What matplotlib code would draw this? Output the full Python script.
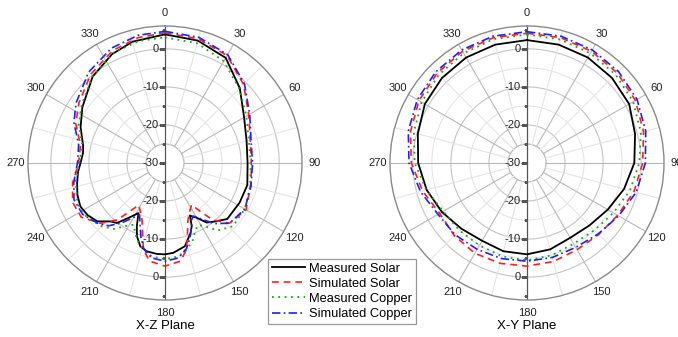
import numpy as np
import matplotlib
matplotlib.use("Agg")
import matplotlib.pyplot as plt
from matplotlib.markers import TICKLEFT

plt.rcParams['font.family'] = ['Liberation Sans', 'DejaVu Sans']

# ---- X-Z plane data (angle in degrees, gain in dB) ----
xz_meas_solar_ang = [0, 15, 30, 45, 60, 75, 90, 105, 118, 132, 140, 145, 150, 154.7, 157, 160,
                     166.6, 174.7, 180, 185, 191.7, 196.6, 201, 204, 207.9, 213.6, 218.7, 223,
                     229.3, 236, 242.8, 250, 257, 264, 270, 277, 282, 293, 304, 320, 334, 345]
xz_meas_solar = [3.8, 3.3, 1.9, -2.2, -6.0, -7.8, -8.3, -7.6, -7.8, -8.0, -9.9, -10.9, -13.4, -14.7,
                 -12.0, -10.4, -7.5, -6.3, -6.0, -6.0, -6.3, -7.2, -9.4, -11.8, -15.1, -12.7, -9.8,
                 -9.0, -6.5, -5.5, -5.0, -5.5, -6.3, -7.0, -7.8, -8.3, -8.0, -5.9, -3.8, -0.4, 1.8, 3.0]

xz_sim_solar_ang = [0, 15, 30, 45, 60, 75, 90, 103, 120, 133, 140, 144, 147.5, 152, 158, 163, 166,
                    171, 180, 189, 194, 197, 202, 208, 212, 216, 220, 227, 237, 247, 258, 270, 282,
                    294, 305, 320, 335, 348]
xz_sim_solar = [4.2, 3.8, 2.6, -0.8, -4.6, -6.8, -7.3, -6.8, -5.4, -6.8, -10.5, -14.3, -17.0, -16.0,
                -13.9, -9.9, -6.6, -3.9, -2.9, -3.9, -6.6, -9.9, -13.9, -16.0, -17.0, -14.3, -10.5,
                -6.8, -3.8, -3.6, -5.2, -7.3, -7.3, -4.3, -2.4, 0.4, 2.6, 3.7]

xz_meas_copper_ang = [0, 15, 30, 45, 60, 75, 90, 105, 120, 133, 142, 148, 152, 156, 160, 166, 172,
                      180, 188, 194, 200, 204, 207, 212, 218, 225, 235, 245, 258, 270, 282, 294,
                      305, 320, 335, 348]
xz_meas_copper = [3.0, 2.6, 0.9, -2.4, -5.3, -7.2, -7.5, -6.8, -5.8, -5.6, -7.5, -10.5, -11.5, -10.5,
                  -8.5, -6.5, -5.2, -4.7, -5.2, -6.5, -8.5, -10.5, -11.8, -10.5, -8.0, -6.5, -5.0,
                  -4.6, -6.0, -7.5, -7.8, -5.2, -3.3, -0.3, 2.0, 2.8]

xz_sim_copper_ang = [0, 15, 30, 45, 60, 75, 90, 105, 120, 133, 141, 147, 152, 155, 158, 162, 166,
                     172, 180, 188, 194, 198, 202, 206, 210, 216, 222, 228, 238, 248, 258, 270, 282,
                     294, 304, 320, 335, 348]
xz_sim_copper = [4.6, 4.2, 2.9, -0.5, -4.3, -6.6, -7.0, -6.6, -5.8, -6.8, -9.5, -12.5, -14.2, -13.5,
                 -11.5, -9.0, -6.8, -4.8, -4.2, -4.8, -6.8, -9.5, -12.5, -14.8, -13.5, -10.5, -7.8,
                 -6.3, -4.5, -4.2, -5.5, -7.0, -6.8, -3.8, -1.8, 1.2, 3.3, 4.3]

# ---- X-Y plane data ----
xy_ang = [0, 15, 30, 45, 60, 75, 90, 105, 120, 135, 150, 165, 180, 195, 210, 225, 240, 255, 270,
          285, 300, 315, 330, 345]
xy_meas_solar = [2.3, 2.2, 2.0, 1.6, 1.0, -0.6, -1.8, -3.6, -5.5, -6.8, -7.3, -6.5, -6.0, -6.0,
                 -6.4, -5.6, -4.2, -2.7, -1.4, -0.3, 1.0, 1.6, 2.0, 2.2]
xy_sim_solar = [4.1, 4.1, 3.9, 3.5, 2.9, 1.7, 0.4, -0.9, -2.5, -3.4, -3.7, -3.2, -2.9, -2.7, -2.6,
                -3.0, -3.5, -1.6, 0.4, 1.7, 2.8, 3.4, 3.9, 4.1]
xy_meas_copper = [3.8, 3.6, 3.3, 2.9, 2.2, 1.0, -0.5, -2.0, -3.8, -5.0, -5.5, -4.9, -4.4, -4.6,
                  -5.0, -4.9, -4.6, -2.6, -0.5, 0.8, 2.0, 2.8, 3.3, 3.7]
xy_sim_copper = [4.5, 4.5, 4.3, 4.0, 3.4, 2.3, 1.1, -0.3, -2.2, -3.6, -4.4, -4.3, -4.2, -4.0,
                 -3.8, -3.3, -3.0, -1.0, 1.0, 2.3, 3.3, 3.9, 4.3, 4.5]

series_labels = ["Measured Solar", "Simulated Solar", "Measured Copper", "Simulated Copper"]
plane_titles = ["X-Z Plane", "X-Y Plane"]

R_MIN, R_MAX = -30, 6

styles = [
    dict(color="black", lw=1.3, ls="-"),
    dict(color="#ff2020", lw=1.2, ls=(0, (4, 3))),
    dict(color="#20a020", lw=1.3, ls=(0, (1, 2.5))),
    dict(color="#2020ff", lw=1.2, ls=(0, (5, 2, 1, 2))),
]


def closed(ang, val):
    a = np.deg2rad(list(ang) + [ang[0] + 360])
    v = list(val) + [val[0]]
    return a, v


def setup_polar(ax):
    ax.set_theta_zero_location("N")
    ax.set_theta_direction(-1)
    ax.set_rlim(R_MIN, R_MAX)
    ax.grid(False)
    ax.set_yticklabels([])
    ax.set_yticks([])
    ax.set_thetagrids(range(0, 360, 30), [str(a) for a in range(0, 360, 30)], fontsize=8)
    ax.tick_params(axis="x", pad=-1.5, colors="#222222")
    ax.spines["polar"].set_color("#8a8a8a")
    ax.spines["polar"].set_linewidth(1.0)

    full = np.linspace(0, 2 * np.pi, 361)
    # circular grid
    for v in [-20, -10, 0]:
        ax.plot(full, [v] * len(full), color="#c4c4c4", lw=0.8, zorder=1)
    for v in [-25]:
        ax.plot(full, [v] * len(full), color="#b0b0b0", lw=0.8, zorder=1)
    for v in [-15, -5]:
        ax.plot(full, [v] * len(full), color="#e2e2e2", lw=0.7, zorder=1)
    # spokes
    for a in range(0, 360, 15):
        if a in (0, 180):
            continue
        c = "#b8b8b8" if a % 30 == 0 else "#e4e4e4"
        ax.plot([np.deg2rad(a)] * 2, [-25, R_MAX], color=c, lw=0.8, zorder=1)
    # vertical radial axis
    ax.plot([0, 0], [R_MIN, R_MAX], color="#555555", lw=0.9, zorder=2)
    ax.plot([np.pi, np.pi], [R_MIN, R_MAX], color="#555555", lw=0.9, zorder=2)
    for th in (0, np.pi):
        for v in [-30, -20, -10, 0]:
            ax.plot([th], [v], marker=TICKLEFT, ms=4, color="#555555", mew=0.9, zorder=2)
        for v in [-25, -15, -5, 5]:
            ax.plot([th], [v], marker=TICKLEFT, ms=2.5, color="#555555", mew=0.8, zorder=2)
    for v in [0, -10, -20, -30]:
        ax.annotate(str(v), (0, v), xytext=(-4.5, 0), textcoords="offset points",
                    ha="right", va="center", fontsize=8, color="#222222", zorder=3)
    for v in [0, -10, -20]:
        ax.annotate(str(v), (np.pi, v), xytext=(-4.5, 0), textcoords="offset points",
                    ha="right", va="center", fontsize=8, color="#222222", zorder=3)


fig = plt.figure(figsize=(6.78, 3.37), dpi=100)
ax1 = fig.add_axes([28 / 678, 37 / 337, 274 / 678, 274 / 337], projection="polar")
ax2 = fig.add_axes([390 / 678, 37 / 337, 274 / 678, 274 / 337], projection="polar")

xz_series = [
    (xz_meas_solar_ang, xz_meas_solar),
    (xz_sim_solar_ang, xz_sim_solar),
    (xz_meas_copper_ang, xz_meas_copper),
    (xz_sim_copper_ang, xz_sim_copper),
]
xy_series = [
    (xy_ang, xy_meas_solar),
    (xy_ang, xy_sim_solar),
    (xy_ang, xy_meas_copper),
    (xy_ang, xy_sim_copper),
]

handles = []
for ax, series in [(ax1, xz_series), (ax2, xy_series)]:
    setup_polar(ax)
    hs = []
    for (ang, val), st, lab in zip(series, styles, series_labels):
        a, v = closed(ang, val)
        h, = ax.plot(a, v, label=lab, zorder=4, **st)
        hs.append(h)
    handles = hs

fig.text(165 / 678, 1 - 326 / 337, plane_titles[0], ha="center", va="center", fontsize=9.5)
fig.text(527 / 678, 1 - 326 / 337, plane_titles[1], ha="center", va="center", fontsize=9.5)

leg = fig.legend(handles, series_labels, loc="lower left",
                 bbox_to_anchor=(268 / 678, 13 / 337), fontsize=9.3, frameon=True,
                 fancybox=False, edgecolor="#999999", framealpha=1, handlelength=2.6,
                 handletextpad=0.3, labelspacing=0.24, borderpad=0.3, borderaxespad=0)
leg.get_frame().set_linewidth(0.9)

fig.savefig("out.png", dpi=100)
